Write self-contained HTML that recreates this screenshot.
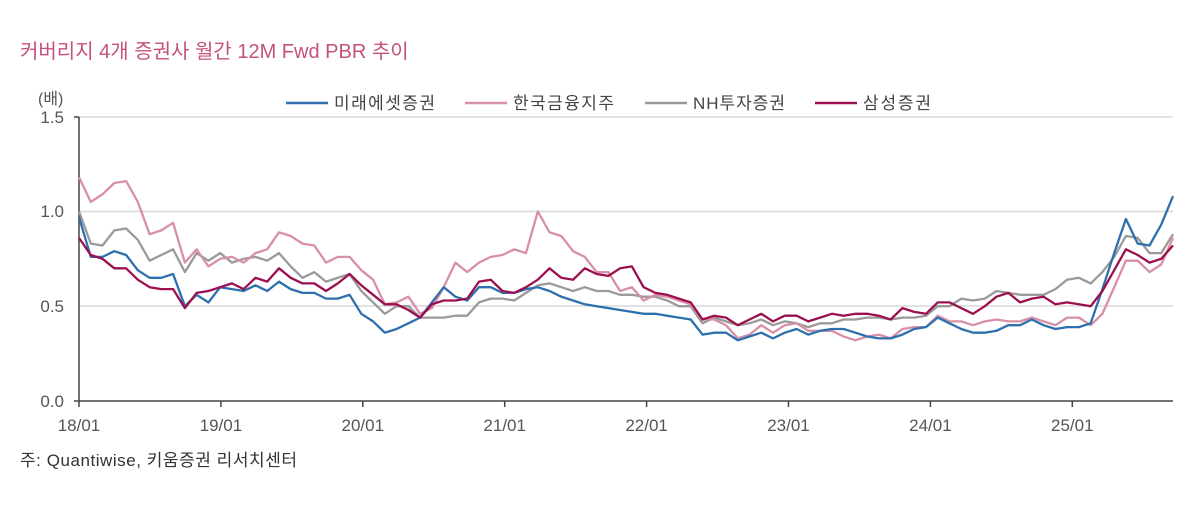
<!DOCTYPE html>
<html><head><meta charset="utf-8"><style>
body{margin:0;background:#fff;width:1200px;height:513px;overflow:hidden;font-family:"Liberation Sans","Noto Sans CJK KR",sans-serif}
</style></head><body>
<svg id="s" width="1200" height="513" xmlns="http://www.w3.org/2000/svg" font-family="Liberation Sans, Noto Sans CJK KR, sans-serif">
<text x="20" y="58" font-size="20" fill="#c4507e">커버리지 4개 증권사 월간 12M Fwd PBR 추이</text>
<text x="38" y="104" font-size="16" fill="#555">(배)</text>
<g font-size="17" fill="#444">
<line x1="286" y1="103" x2="328" y2="103" stroke="#2e6fad" stroke-width="2.5"/><text x="334" y="109" textLength="101">미래에셋증권</text>
<line x1="465" y1="103" x2="507" y2="103" stroke="#d88fa8" stroke-width="2.5"/><text x="513" y="109" textLength="101">한국금융지주</text>
<line x1="645" y1="103" x2="687" y2="103" stroke="#999" stroke-width="2.5"/><text x="693" y="109" textLength="92">NH투자증권</text>
<line x1="815" y1="103" x2="857" y2="103" stroke="#9c1050" stroke-width="2.5"/><text x="863" y="109" textLength="68">삼성증권</text>
</g>
<g stroke="#d8d8d8" stroke-width="1.5">
<line x1="79" y1="117" x2="1173" y2="117"/><line x1="79" y1="211.5" x2="1173" y2="211.5"/><line x1="79" y1="306" x2="1173" y2="306"/>
</g>
<g font-size="17" fill="#555" text-anchor="end">
<text x="64" y="123">1.5</text><text x="64" y="217">1.0</text><text x="64" y="312">0.5</text><text x="64" y="407">0.0</text>
</g>
<line x1="79" y1="117" x2="79" y2="401" stroke="#444" stroke-width="1.5"/>
<line x1="74" y1="117" x2="79" y2="117" stroke="#444" stroke-width="1.5"/>
<line x1="74" y1="401" x2="1173" y2="401" stroke="#444" stroke-width="1.5"/>
<g id="ticks" font-size="17" fill="#555" text-anchor="middle"></g>
<g id="lines" fill="none" stroke-width="2.3" stroke-linejoin="round"></g>
<text x="20" y="466" font-size="17" fill="#333" textLength="277">주: Quantiwise, 키움증권 리서치센터</text>
</svg>
<script>
var blue=[0.97,0.76,0.76,0.79,0.77,0.69,0.65,0.65,0.67,0.50,0.56,0.52,
0.60,0.59,0.58,0.61,0.58,0.63,0.59,0.57,0.57,0.54,0.54,0.56,
0.46,0.42,0.36,0.38,0.41,0.44,0.52,0.60,0.55,0.53,0.60,0.60,
0.57,0.57,0.59,0.60,0.58,0.55,0.53,0.51,0.50,0.49,0.48,0.47,
0.46,0.46,0.45,0.44,0.43,0.35,0.36,0.36,0.32,0.34,0.36,0.33,
0.36,0.38,0.35,0.37,0.38,0.38,0.36,0.34,0.33,0.33,0.35,0.38,
0.39,0.44,0.41,0.38,0.36,0.36,0.37,0.40,0.40,0.43,0.40,0.38,
0.39,0.39,0.41,0.59,0.78,0.96,0.83,0.82,0.93,1.08];
var pink=[1.18,1.05,1.09,1.15,1.16,1.05,0.88,0.90,0.94,0.73,0.80,0.71,
0.75,0.76,0.73,0.78,0.80,0.89,0.87,0.83,0.82,0.73,0.76,0.76,
0.69,0.64,0.51,0.52,0.55,0.46,0.49,0.60,0.73,0.68,0.73,0.76,
0.77,0.80,0.78,1.00,0.89,0.87,0.79,0.76,0.68,0.68,0.58,0.60,
0.53,0.56,0.55,0.53,0.51,0.43,0.43,0.40,0.33,0.35,0.40,0.36,
0.40,0.41,0.37,0.37,0.37,0.34,0.32,0.34,0.35,0.33,0.38,0.39,
0.39,0.45,0.42,0.42,0.40,0.42,0.43,0.42,0.42,0.44,0.42,0.40,
0.44,0.44,0.40,0.46,0.60,0.74,0.74,0.68,0.72,0.86];
var gray=[1.00,0.83,0.82,0.90,0.91,0.85,0.74,0.77,0.80,0.68,0.78,0.74,
0.78,0.73,0.75,0.76,0.74,0.78,0.71,0.65,0.68,0.63,0.65,0.67,
0.58,0.52,0.46,0.50,0.50,0.44,0.44,0.44,0.45,0.45,0.52,0.54,
0.54,0.53,0.57,0.61,0.62,0.60,0.58,0.60,0.58,0.58,0.56,0.56,
0.55,0.55,0.53,0.50,0.50,0.41,0.44,0.42,0.40,0.41,0.43,0.40,
0.42,0.41,0.39,0.41,0.41,0.43,0.43,0.44,0.44,0.43,0.44,0.44,
0.45,0.50,0.50,0.54,0.53,0.54,0.58,0.57,0.56,0.56,0.56,0.59,
0.64,0.65,0.62,0.68,0.76,0.87,0.86,0.78,0.78,0.88];
var red=[0.86,0.77,0.75,0.70,0.70,0.64,0.60,0.59,0.59,0.49,0.57,0.58,
0.60,0.62,0.59,0.65,0.63,0.70,0.65,0.62,0.62,0.58,0.62,0.67,
0.61,0.56,0.51,0.51,0.48,0.44,0.51,0.53,0.53,0.54,0.63,0.64,
0.58,0.57,0.60,0.64,0.70,0.65,0.64,0.70,0.67,0.66,0.70,0.71,
0.60,0.57,0.56,0.54,0.52,0.43,0.45,0.44,0.40,0.43,0.46,0.42,
0.45,0.45,0.42,0.44,0.46,0.45,0.46,0.46,0.45,0.43,0.49,0.47,
0.46,0.52,0.52,0.49,0.46,0.50,0.55,0.57,0.52,0.54,0.55,0.51,
0.52,0.51,0.50,0.58,0.69,0.80,0.77,0.73,0.75,0.82];
var NS="http://www.w3.org/2000/svg";
function X(i,n){return 79+i*(1094/(n-1));}
function Y(v){return 401-v*189.6;}
var g=document.getElementById('lines');
[[gray,'#9a9a9a'],[pink,'#d88fa8'],[blue,'#2e6fad'],[red,'#9c1050']].forEach(function(s){
 var d=s[0],p='';for(var i=0;i<d.length;i++)p+=(i?'L':'M')+X(i,d.length).toFixed(1)+','+Y(d[i]).toFixed(1);
 var e=document.createElementNS(NS,'path');e.setAttribute('d',p);e.setAttribute('stroke',s[1]);g.appendChild(e);});
var t=document.getElementById('ticks');
for(var k=0;k<8;k++){var x=79+k*141.9;
 var l=document.createElementNS(NS,'line');l.setAttribute('x1',x);l.setAttribute('x2',x);l.setAttribute('y1',401);l.setAttribute('y2',407);l.setAttribute('stroke','#444');l.setAttribute('stroke-width','1.5');t.appendChild(l);
 var tx=document.createElementNS(NS,'text');tx.setAttribute('x',x);tx.setAttribute('y',431);tx.textContent=(18+k)+'/01';t.appendChild(tx);}
</script>
</body></html>
